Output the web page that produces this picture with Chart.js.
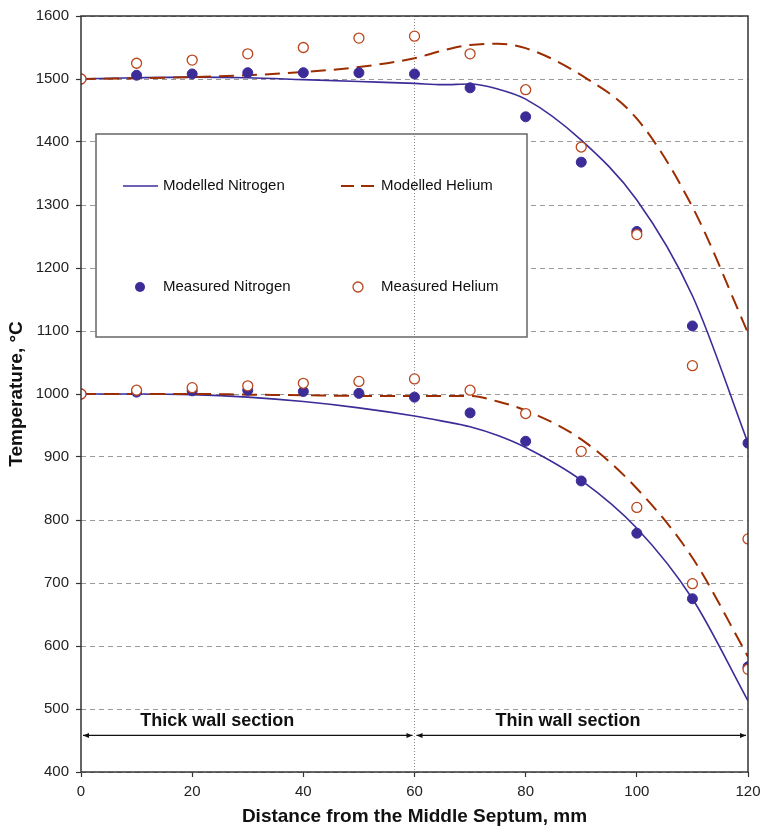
<!DOCTYPE html>
<html>
<head>
<meta charset="utf-8">
<script src="https://cdn.jsdelivr.net/npm/chart.js@4.4.1/dist/chart.umd.min.js"></script>
<style>
  body { margin: 0; background: #fff; }
</style>
</head>
<body>
<canvas id="chart" width="763" height="828"></canvas>
<script>
// measured points, every 10 mm
const distance = [0, 10, 20, 30, 40, 50, 60, 70, 80, 90, 100, 110, 120];
const measN2Upper = [1500, 1506, 1508, 1510, 1510, 1510, 1508, 1486, 1440, 1368, 1258, 1108, 922];
const measHeUpper = [1500, 1525, 1530, 1540, 1550, 1565, 1568, 1540, 1483, 1392, 1253, 1045, 770];
const measN2Lower = [1000, 1003, 1005, 1006, 1004, 1001, 995, 970, 925, 862, 779, 675, 567];
const measHeLower = [1000, 1006, 1010, 1013, 1017, 1020, 1024, 1006, 969, 909, 820, 699, 563];

// modelled curves
const modelX = [0, 10, 20, 30, 40, 50, 60, 65, 70, 75, 80, 90, 100, 110, 120];
const modN2Upper = [1500, 1502, 1503, 1502, 1499, 1496, 1493, 1491, 1492, 1484, 1468, 1403, 1308, 1156, 922];
const modHeUpper = [1500, 1501, 1503, 1506, 1511, 1519, 1533, 1545, 1554, 1556, 1549, 1506, 1437, 1297, 1097];
const modN2Lower = [1000, 1000, 999, 995, 988, 978, 965, 957, 948, 934, 915, 863, 787, 675, 513];
const modHeLower = [1000, 1000, 1000, 999, 998, 997, 997, 997, 997, 988, 974, 928, 850, 740, 583];

// wall sections: [from, to, label x, label]
const sections = [
  [0, 60, 24.5, 'Thick wall section'],
  [60, 120, 87.6, 'Thin wall section']
];
const sectionArrowY = 458;
const sectionLabelY = 481;
const sectionBoundary = 60;

const N2 = '#3b2c98';
const HE_LINE = '#9c2d00';
const HE_PT = '#b9461c';
const FONT = '"Liberation Sans", Arial, sans-serif';

const pts = (xs, ys) => xs.map((x, i) => ({ x: x, y: ys[i] }));

const measuredHe = { showLine: false, pointRadius: 5, pointBackgroundColor: '#fff', pointBorderColor: HE_PT, pointBorderWidth: 1.3 };
const measuredN2 = { showLine: false, pointRadius: 5, pointBackgroundColor: N2, pointBorderColor: N2, pointBorderWidth: 1 };
const modelHe = { showLine: true, pointRadius: 0, borderColor: HE_LINE, borderWidth: 2, borderDash: [15, 8], cubicInterpolationMode: 'monotone' };
const modelN2 = { showLine: true, pointRadius: 0, borderColor: N2, borderWidth: 1.6, cubicInterpolationMode: 'monotone' };

const legendItems = [
  { label: 'Modelled Nitrogen', kind: 'line', col: 0, row: 0 },
  { label: 'Modelled Helium', kind: 'dash', col: 1, row: 0 },
  { label: 'Measured Nitrogen', kind: 'dot', col: 0, row: 1 },
  { label: 'Measured Helium', kind: 'ring', col: 1, row: 1 }
];

const decor = {
  id: 'decor',
  beforeDatasetsDraw(chart) {
    const { ctx, chartArea: a, scales } = chart;
    // legend box
    const bx = a.left + 15, by = a.top + 118, bw = 431, bh = 203;
    ctx.save();
    ctx.fillStyle = '#fff';
    ctx.fillRect(bx, by, bw, bh);
    ctx.strokeStyle = '#666';
    ctx.lineWidth = 1.5;
    ctx.strokeRect(bx, by, bw, bh);
    ctx.font = '15px ' + FONT;
    ctx.fillStyle = '#111';
    ctx.textBaseline = 'middle';
    legendItems.forEach(it => {
      const sx = bx + 27 + it.col * 218;
      const sy = by + 52 + it.row * 101;
      ctx.save();
      if (it.kind === 'line' || it.kind === 'dash') {
        ctx.strokeStyle = it.kind === 'line' ? N2 : HE_LINE;
        ctx.lineWidth = it.kind === 'line' ? 1.6 : 2;
        ctx.setLineDash(it.kind === 'dash' ? [13, 7] : []);
        ctx.beginPath();
        ctx.moveTo(sx, sy);
        ctx.lineTo(sx + 35, sy);
        ctx.stroke();
      } else {
        ctx.beginPath();
        ctx.arc(sx + 17, sy, 5, 0, Math.PI * 2);
        if (it.kind === 'dot') {
          ctx.fillStyle = N2; ctx.fill();
        } else {
          ctx.fillStyle = '#fff'; ctx.fill();
          ctx.strokeStyle = HE_PT; ctx.lineWidth = 1.3; ctx.stroke();
        }
      }
      ctx.restore();
      ctx.fillText(it.label, sx + 40, sy);
    });
    // dotted boundary line
    const xb = scales.x.getPixelForValue(sectionBoundary);
    ctx.strokeStyle = '#888';
    ctx.lineWidth = 1;
    ctx.setLineDash([1, 2]);
    ctx.beginPath();
    ctx.moveTo(xb, a.top);
    ctx.lineTo(xb, a.bottom);
    ctx.stroke();
    ctx.restore();
  },
  afterDatasetsDraw(chart) {
    const { ctx, chartArea: a, scales } = chart;
    ctx.save();
    // frame
    ctx.strokeStyle = '#333';
    ctx.lineWidth = 1.5;
    ctx.strokeRect(a.left, a.top, a.right - a.left, a.bottom - a.top);
    // section arrows
    const ya = scales.y.getPixelForValue(sectionArrowY);
    const yl = scales.y.getPixelForValue(sectionLabelY);
    ctx.strokeStyle = '#111';
    ctx.fillStyle = '#111';
    ctx.lineWidth = 1.2;
    const head = (x, dir) => {
      ctx.beginPath();
      ctx.moveTo(x, ya);
      ctx.lineTo(x - dir * 6, ya - 2.5);
      ctx.lineTo(x - dir * 6, ya + 2.5);
      ctx.closePath();
      ctx.fill();
    };
    ctx.font = 'bold 18px ' + FONT;
    ctx.textAlign = 'center';
    ctx.textBaseline = 'middle';
    sections.forEach(s => {
      const x0 = scales.x.getPixelForValue(s[0]) + 2;
      const x1 = scales.x.getPixelForValue(s[1]) - 2;
      ctx.beginPath();
      ctx.moveTo(x0, ya);
      ctx.lineTo(x1, ya);
      ctx.stroke();
      head(x0, -1);
      head(x1, 1);
      ctx.fillText(s[3], scales.x.getPixelForValue(s[2]), yl);
    });
    ctx.restore();
  }
};

new Chart(document.getElementById('chart'), {
  type: 'scatter',
  data: {
    datasets: [
      Object.assign({ label: 'Measured Helium', data: pts(distance, measHeUpper) }, measuredHe),
      Object.assign({ label: 'Measured Helium', data: pts(distance, measHeLower) }, measuredHe),
      Object.assign({ label: 'Measured Nitrogen', data: pts(distance, measN2Upper) }, measuredN2),
      Object.assign({ label: 'Measured Nitrogen', data: pts(distance, measN2Lower) }, measuredN2),
      Object.assign({ label: 'Modelled Helium', data: pts(modelX, modHeUpper) }, modelHe),
      Object.assign({ label: 'Modelled Helium', data: pts(modelX, modHeLower) }, modelHe),
      Object.assign({ label: 'Modelled Nitrogen', data: pts(modelX, modN2Upper) }, modelN2),
      Object.assign({ label: 'Modelled Nitrogen', data: pts(modelX, modN2Lower) }, modelN2)
    ]
  },
  options: {
    responsive: false,
    animation: false,
    layout: { padding: { top: 16, right: 15, left: 0, bottom: 0 } },
    plugins: { legend: { display: false }, tooltip: { enabled: false } },
    scales: {
      x: {
        type: 'linear', min: 0, max: 120,
        ticks: { stepSize: 20, color: '#222', font: { family: FONT, size: 15 }, padding: 6, callback: v => String(v) },
        grid: { drawOnChartArea: false, tickLength: 5, tickColor: '#333', tickWidth: 1.2 },
        border: { display: false },
        title: { display: true, text: 'Distance from the Middle Septum, mm', color: '#111',
                 font: { family: FONT, size: 19, weight: 'bold' }, padding: { top: 4, bottom: 0 } },
        afterFit(s) { s.height = 56; s.paddingLeft = 0; s.paddingRight = 0; }
      },
      y: {
        min: 400, max: 1600,
        ticks: { stepSize: 100, color: '#222', font: { family: FONT, size: 15 }, padding: 7, callback: v => String(v) },
        grid: { color: '#9a9a9a', lineWidth: 1, tickLength: 5, tickColor: '#333', tickWidth: 1.2, tickBorderDash: [] },
        border: { display: false, dash: [5, 4] },
        title: { display: true, text: 'Temperature, °C', color: '#111',
                 font: { family: FONT, size: 19, weight: 'bold' }, padding: { top: 5, bottom: 0 } },
        afterFit(s) { s.width = 81; }
      }
    }
  },
  plugins: [decor]
});
</script>
</body>
</html>
